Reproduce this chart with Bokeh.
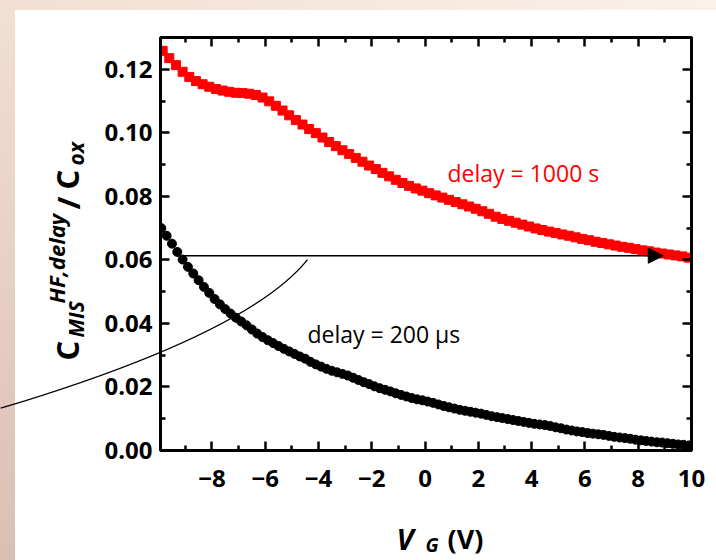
import numpy as np
from bokeh.plotting import figure
from bokeh.models import Range1d, LinearAxis, FixedTicker, Arrow, NormalHead
from bokeh.core.properties import value
from bokeh.embed import file_html
from bokeh.resources import INLINE

# ---------------- data ----------------
# delay = 1000 s (red squares)
v_red = [-9.85, -9.60, -9.35, -9.10, -8.85, -8.60, -8.35, -8.10, -7.85, -7.60,
         -7.35, -7.10, -6.85, -6.60, -6.35, -6.10, -5.85, -5.60, -5.35, -5.10,
         -4.85, -4.60, -4.35, -4.10, -3.85, -3.60, -3.35, -3.10, -2.85, -2.60,
         -2.35, -2.10, -1.85, -1.60, -1.35, -1.10, -0.85, -0.60, -0.35, -0.10,
         0.15, 0.40, 0.65, 0.90, 1.15, 1.40, 1.65, 1.90, 2.15, 2.40,
         2.65, 2.90, 3.15, 3.40, 3.65, 3.90, 4.15, 4.40, 4.65, 4.90,
         5.15, 5.40, 5.65, 5.90, 6.15, 6.40, 6.65, 6.90, 7.15, 7.40,
         7.65, 7.90, 8.15, 8.40, 8.65, 8.90, 9.15, 9.40, 9.65, 9.90]
c_red = [0.1258, 0.1235, 0.1213, 0.1192, 0.1176, 0.1163, 0.1153, 0.1145, 0.1138, 0.1133,
         0.1129, 0.1126, 0.1125, 0.1123, 0.1119, 0.1111, 0.1099, 0.1085, 0.1070, 0.1055,
         0.1040, 0.1026, 0.1012, 0.0999, 0.0985, 0.0971, 0.0958, 0.0945, 0.0933, 0.0921,
         0.0909, 0.0897, 0.0886, 0.0874, 0.0863, 0.0852, 0.0842, 0.0833, 0.0825, 0.0818,
         0.0810, 0.0803, 0.0796, 0.0789, 0.0782, 0.0775, 0.0768, 0.0761, 0.0753, 0.0745,
         0.0736, 0.0729, 0.0723, 0.0717, 0.0711, 0.0705, 0.0699, 0.0694, 0.0689, 0.0685,
         0.0680, 0.0676, 0.0671, 0.0666, 0.0662, 0.0657, 0.0653, 0.0649, 0.0645, 0.0641,
         0.0638, 0.0634, 0.0630, 0.0627, 0.0623, 0.0620, 0.0617, 0.0614, 0.0611, 0.0607]

# delay = 200 us (black circles)
v_black = [-9.9, -9.7, -9.5, -9.3, -9.1, -8.9, -8.7, -8.5, -8.3, -8.1,
           -7.9, -7.7, -7.5, -7.3, -7.1, -6.9, -6.7, -6.5, -6.3, -6.1,
           -5.9, -5.7, -5.5, -5.3, -5.1, -4.9, -4.7, -4.5, -4.3, -4.1,
           -3.9, -3.7, -3.5, -3.3, -3.1, -2.9, -2.7, -2.5, -2.3, -2.1,
           -1.9, -1.7, -1.5, -1.3, -1.1, -0.9, -0.7, -0.5, -0.3, -0.1,
           0.1, 0.3, 0.5, 0.7, 0.9, 1.1, 1.3, 1.5, 1.7, 1.9,
           2.1, 2.3, 2.5, 2.7, 2.9, 3.1, 3.3, 3.5, 3.7, 3.9,
           4.1, 4.3, 4.5, 4.7, 4.9, 5.1, 5.3, 5.5, 5.7, 5.9,
           6.1, 6.3, 6.5, 6.7, 6.9, 7.1, 7.3, 7.5, 7.7, 7.9,
           8.1, 8.3, 8.5, 8.7, 8.9, 9.1, 9.3, 9.5, 9.7, 9.9]
c_black = [0.0700, 0.0676, 0.0651, 0.0625, 0.0601, 0.0578, 0.0557, 0.0536, 0.0515, 0.0496,
           0.0477, 0.0460, 0.0445, 0.0431, 0.0418, 0.0406, 0.0394, 0.0381, 0.0368, 0.0357,
           0.0347, 0.0338, 0.0329, 0.0320, 0.0312, 0.0304, 0.0296, 0.0289, 0.0279, 0.0271,
           0.0264, 0.0257, 0.0251, 0.0246, 0.0241, 0.0236, 0.0229, 0.0222, 0.0215, 0.0209,
           0.0202, 0.0196, 0.0191, 0.0186, 0.0180, 0.0175, 0.0170, 0.0165, 0.0161, 0.0158,
           0.0154, 0.0150, 0.0145, 0.0140, 0.0136, 0.0132, 0.0128, 0.0125, 0.0122, 0.0119,
           0.0116, 0.0112, 0.0108, 0.0105, 0.0102, 0.0099, 0.0096, 0.0093, 0.0090, 0.0087,
           0.0084, 0.0082, 0.0080, 0.0077, 0.0073, 0.0070, 0.0066, 0.0063, 0.0060, 0.0058,
           0.0055, 0.0053, 0.0051, 0.0049, 0.0046, 0.0043, 0.0041, 0.0039, 0.0037, 0.0034,
           0.0032, 0.0030, 0.0028, 0.0026, 0.0025, 0.0023, 0.0021, 0.0019, 0.0018, 0.0016]

x_ticks = [-8, -6, -4, -2, 0, 2, 4, 6, 8, 10]
x_minor = [-9, -7, -5, -3, -1, 1, 3, 5, 7, 9]
x_tick_labels = ["\u22128", "\u22126", "\u22124", "\u22122", "0", "2", "4", "6", "8", "10"]
y_ticks = [0.0, 0.02, 0.04, 0.06, 0.08, 0.10, 0.12]
y_minor = [0.01, 0.03, 0.05, 0.07, 0.09, 0.11]
y_tick_labels = ["0.00", "0.02", "0.04", "0.06", "0.08", "0.10", "0.12"]

# guide annotations (data units): quadratic curve start / control / end, and arrow
guide_x = [-15.93, -6.67, -4.41]
guide_y = [0.0133, 0.0366, 0.0601]
arrow_x = [-9.14, 8.94]
arrow_y = [0.0613, 0.0613]

label_red = "delay = 1000 s"
label_black = "delay = 200 \u00b5s"

# ---------------- layout ----------------
X0, X1 = -9.93, 10.0
Y0, Y1 = 0.0, 0.13
W, H = 716, 560
FL, FR, FT, FB = 160, 691, 37, 450   # frame edges in canvas pixels


def dx(px):
    return X0 + (px - FL) * (X1 - X0) / (FR - FL)


def dy(py):
    return Y0 + (FB - py) * (Y1 - Y0) / (FB - FT)


FONT = "Open Sans"

p = figure(width=W, height=H, x_range=Range1d(X0, X1), y_range=Range1d(Y0, Y1),
           output_backend="svg", toolbar_location=None,
           min_border_left=FL, min_border_right=W - FR,
           min_border_top=FT, min_border_bottom=H - FB)
p.styles = {
    "background": "linear-gradient(#ffffff,#ffffff) 15px 10px / 100% 100% no-repeat, "
                  "linear-gradient(to right, #f2dfd2, #faf1ea) 0 0 / 100% 10px no-repeat, "
                  "linear-gradient(to bottom, #f2e0d3, #dbbfb3)",
}
p.border_fill_color = None
p.background_fill_color = "white"
p.outline_line_color = "black"
p.outline_line_width = 3
p.grid.grid_line_color = None


def style_axis(ax, ticks, minor, labels, show):
    ax.ticker = FixedTicker(ticks=ticks, minor_ticks=minor)
    ax.axis_line_width = 3
    ax.axis_line_color = "black"
    ax.major_tick_in = 9
    ax.major_tick_out = 0
    ax.minor_tick_in = 5
    ax.minor_tick_out = 0
    ax.major_tick_line_width = 2.5
    ax.minor_tick_line_width = 2.5
    ax.major_label_overrides = {t: l for t, l in zip(ticks, labels)}
    ax.major_label_text_font = FONT
    ax.major_label_text_font_style = "bold"
    ax.major_label_text_color = "black"
    if show:
        ax.major_label_text_font_size = "24px"
    else:
        ax.major_label_text_alpha = 0
        ax.major_label_text_font_size = "1px"


style_axis(p.xaxis[0], x_ticks, x_minor, x_tick_labels, True)
p.xaxis[0].major_label_standoff = 19
style_axis(p.yaxis[0], y_ticks, y_minor, y_tick_labels, True)
p.yaxis[0].major_label_standoff = 8

top = LinearAxis()
style_axis(top, x_ticks, x_minor, x_tick_labels, False)
p.add_layout(top, "above")
right = LinearAxis()
style_axis(right, y_ticks, y_minor, y_tick_labels, False)
p.add_layout(right, "right")

# data
p.scatter(v_red, c_red, marker="square", size=9, color="#ff0000")
p.scatter(v_black, c_black, marker="circle", size=9, color="black")

# guide curve (extends beyond frame)
gc = p.quadratic(x0=[guide_x[0]], y0=[guide_y[0]], cx=[guide_x[1]], cy=[guide_y[1]],
                 x1=[guide_x[2]], y1=[guide_y[2]], line_color="black", line_width=1.3)
gc.level = "overlay"

p.add_layout(Arrow(end=NormalHead(size=15, fill_color="black", line_color="black", line_width=1),
                   x_start=arrow_x[0], y_start=arrow_y[0], x_end=arrow_x[1], y_end=arrow_y[1],
                   line_color="black", line_width=1.3))


def add_text(px, py, text, size, style, color="black", angle=0):
    r = p.text(x=[dx(px)], y=[dy(py)], text=[text], text_font=value(FONT),
               text_font_size=value(size), text_font_style=value(style),
               text_color=color, angle=angle, angle_units="deg",
               text_align="left", text_baseline="middle")
    r.level = "overlay"


# in-plot labels
add_text(447, 172, label_red, "23px", "normal", color="#ff0000")
add_text(307, 333, label_black, "23px", "normal")

# y-axis label: C_MIS^{HF,delay} / C_ox  (rotated, anchors = glyph-band centres)
add_text(66, 360, "C", "31px", "bold", angle=90)
add_text(75, 337, "MIS", "21px", "bold italic", angle=90)
add_text(55, 303, "HF,delay", "22px", "bold italic", angle=90)
add_text(67, 209, "/", "31px", "bold", angle=90)
add_text(66, 189, "C", "31px", "bold", angle=90)
add_text(75, 165, "ox", "21px", "bold italic", angle=90)

# x-axis label: V_G (V)
add_text(396, 538, "V", "29px", "bold italic")
add_text(425, 544, "G", "19px", "bold italic")
add_text(447, 538, "(V)", "27px", "bold")

open("out.html", "w").write(file_html(p, INLINE))
